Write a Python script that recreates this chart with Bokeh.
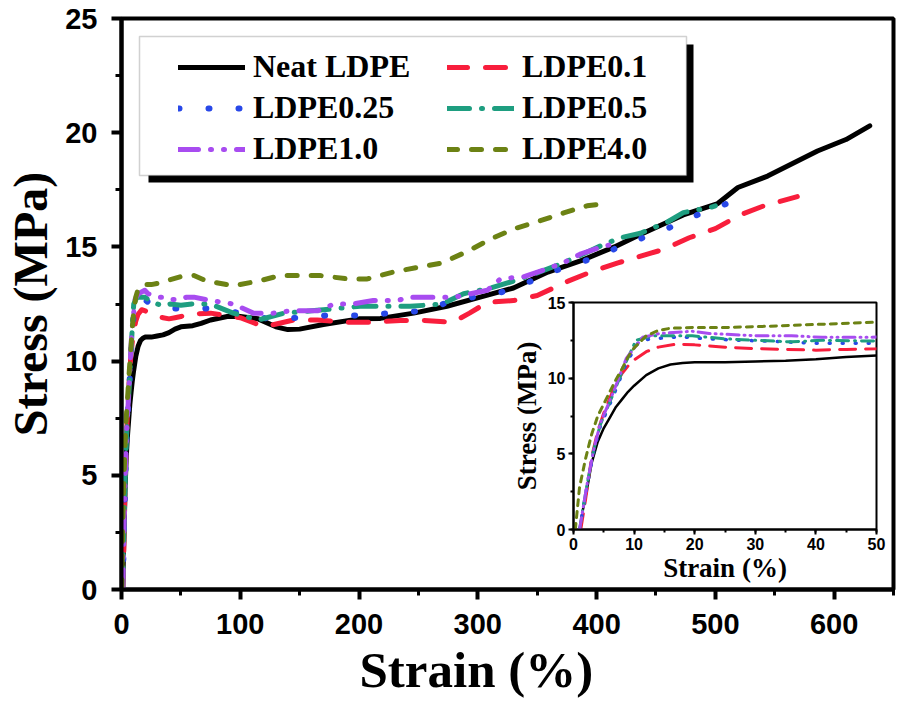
from bokeh.plotting import figure
from bokeh.models import (Range1d, SingleIntervalTicker, Legend, LegendItem, BoxAnnotation,
                          Title)
from bokeh.embed import file_html
from bokeh.resources import INLINE

# ---------------- data ----------------
series_names = ["Neat LDPE", "LDPE0.1", "LDPE0.25", "LDPE0.5", "LDPE1.0", "LDPE4.0"]

neat_x = [1.0, 1.5, 2.2, 3, 4, 5, 6, 7, 8, 9, 10, 12, 14, 16, 18, 20, 25, 30, 35, 40, 45, 50,
          60, 67, 75, 89, 100, 115, 130, 140, 150, 170, 200, 218, 246, 274, 302, 330, 359,
          387, 415, 435, 473, 502, 519, 544, 586, 610, 630]
neat_y = [0, 1.2, 2.6, 4.4, 5.8, 6.7, 7.4, 8.1, 8.6, 9.1, 9.5, 10.2, 10.65, 10.9, 11.0, 11.05,
          11.05, 11.1, 11.15, 11.25, 11.4, 11.5, 11.55, 11.65, 11.8, 11.95, 11.95, 11.85, 11.5,
          11.38, 11.4, 11.6, 11.85, 11.87, 12.1, 12.4, 12.8, 13.2, 13.9, 14.4, 15.0, 15.5, 16.4,
          16.9, 17.6, 18.1, 19.2, 19.7, 20.3]

ldpe01_x = [1.2, 2, 3, 4, 5, 6, 7, 8, 9, 10, 12, 14, 17, 20, 25, 30, 35, 40, 45, 50, 55, 75,
            100, 110, 120, 145, 165, 190, 210, 235, 255, 279, 293, 308, 330, 350, 376, 395, 418,
            457, 478, 500, 521, 541, 569]
ldpe01_y = [0, 2.0, 4.8, 6.5, 7.7, 8.7, 9.6, 10.3, 10.8, 11.2, 11.75, 12.05, 12.25, 12.2, 12.05,
            11.95, 11.9, 11.85, 11.9, 11.95, 12.05, 12.1, 11.9, 11.7, 11.5, 11.8, 11.8, 11.7,
            11.7, 11.78, 11.78, 11.7, 12.1, 12.57, 12.65, 12.87, 13.5, 13.9, 14.3, 14.9, 15.4,
            15.8, 16.4, 16.8, 17.2]

ldpe025_x = [1.0, 2.2, 3.3, 4.4, 6.5, 8.7, 10.9, 13, 16, 19, 22, 28, 35, 40, 47, 75, 100, 128,
             148, 173, 199, 227, 254, 279, 319, 345, 372, 397, 419, 439, 464, 489, 510, 530]
ldpe025_y = [0, 2.8, 5.1, 6.8, 8.75, 11.0, 12.5, 12.6, 12.7, 12.7, 12.6, 12.5, 12.4, 12.3, 12.3,
             12.3, 12.1, 11.8, 11.9, 12.0, 12.0, 12.1, 12.2, 12.65, 13.0, 13.5, 14.1, 14.5, 15.0,
             15.4, 15.9, 16.5, 16.9, 17.3]

ldpe05_x = [1.0, 2.2, 3.3, 4.4, 6.5, 8.7, 10.3, 13, 19.6, 25, 30, 36, 41, 50, 60, 75, 94, 115,
            137, 160, 201, 227, 243, 270, 288, 311, 330, 347, 367, 385, 404, 420, 437, 460, 473,
            482, 494, 500]
ldpe05_y = [0, 2.9, 5.2, 6.9, 8.9, 11.1, 12.5, 12.8, 12.8, 12.6, 12.5, 12.4, 12.5, 12.45, 12.5,
            12.5, 12.1, 11.8, 12.1, 12.2, 12.4, 12.4, 12.4, 12.5, 12.95, 13.2, 13.5, 13.8, 14.2,
            14.6, 15.06, 15.4, 15.6, 16.1, 16.5, 16.6, 16.7, 16.8]

ldpe10_x = [1.0, 2.2, 3.3, 4.4, 6.5, 8.7, 11.4, 14.2, 19.6, 22.4, 30.5, 36, 41, 49, 55, 61, 75,
            94, 111, 128, 142, 165, 179, 195, 212, 232, 243, 266, 280, 308, 319, 339, 356, 372,
            387, 404, 420]
ldpe10_y = [0, 2.9, 5.2, 7.0, 9.0, 11.3, 12.7, 12.95, 13.1, 12.95, 12.8, 12.8, 12.7, 12.7, 12.8,
            12.8, 12.65, 12.5, 12.1, 12.1, 12.2, 12.2, 12.5, 12.5, 12.65, 12.65, 12.8, 12.8, 12.8,
            13.1, 13.6, 13.7, 14.0, 14.3, 14.7, 15.0, 15.2]

ldpe40_x = [0.3, 1, 2, 3, 4, 5, 6, 7, 8, 9, 10, 12, 14, 16, 20, 25, 30, 40, 50, 61, 72, 78, 94,
            115, 134, 153, 167, 190, 207, 229, 249, 270, 291, 313, 331, 350, 373, 392, 400]
ldpe40_y = [0, 2.8, 4.7, 6.3, 7.5, 8.3, 9.1, 9.9, 10.6, 11.4, 12.0, 12.8, 13.15, 13.3, 13.35,
            13.35, 13.4, 13.55, 13.7, 13.75, 13.5, 13.45, 13.3, 13.5, 13.75, 13.75, 13.75, 13.6,
            13.6, 13.9, 14.1, 14.3, 14.8, 15.4, 15.8, 16.1, 16.5, 16.8, 16.85]

all_x = [neat_x, ldpe01_x, ldpe025_x, ldpe05_x, ldpe10_x, ldpe40_x]
all_y = [neat_y, ldpe01_y, ldpe025_y, ldpe05_y, ldpe10_y, ldpe40_y]

# ---------------- styles ----------------
colors = ["#000000", "#F81E3C", "#2848E8", "#1E9E80", "#A84CF0", "#6C8214"]
main_dash = ["solid", "20 18", "1 29", "22 12 1 12", "20 12 1 12 1 12", "10 14"]
main_width = [5, 5, 6, 5, 5, 5]
inset_dash = ["solid", "16 10", "1 12", "12 6 1 6", "12 5 1 5 1 5", "6 6"]
inset_width = [2.5, 3, 3.5, 3, 3, 3]

SANS = "Liberation Sans"
SERIF = "Liberation Serif"

FW, FH = 772, 571
BL, BR, BT, BB = 121, 4, 18, 116

p = figure(width=BL + FW + BR, height=BT + FH + BB,
           x_range=Range1d(0, 650), y_range=Range1d(0, 25),
           output_backend="svg", toolbar_location=None,
           min_border_left=BL, min_border_right=BR, min_border_top=BT, min_border_bottom=BB)
p.xgrid.visible = False
p.ygrid.visible = False
p.outline_line_color = "black"
p.outline_line_width = 4
p.background_fill_color = "white"
p.border_fill_color = "white"

p.xaxis.ticker = SingleIntervalTicker(interval=100, num_minor_ticks=2)
p.yaxis.ticker = SingleIntervalTicker(interval=5, num_minor_ticks=2)
for ax in (p.xaxis[0], p.yaxis[0]):
    ax.axis_line_width = 4
    ax.major_tick_line_width = 4
    ax.minor_tick_line_width = 3
    ax.major_tick_out = 10
    ax.major_tick_in = 0
    ax.minor_tick_out = 6
    ax.minor_tick_in = 0
    ax.major_label_text_font = SANS
    ax.major_label_text_font_style = "bold"
    ax.major_label_text_font_size = "29px"
    ax.major_label_text_color = "black"
    ax.axis_label_text_font = SERIF
    ax.axis_label_text_font_style = "bold"
    ax.axis_label_text_color = "black"
p.yaxis.axis_label = "Stress (MPa)"
p.yaxis.axis_label_text_font_size = "48px"
p.xaxis.major_label_standoff = 14
p.yaxis.major_label_standoff = 14
p.yaxis.axis_label_standoff = 5

# x-axis title placed below the axis, a little left of the frame centre as in the original
x_title = Title(text="Strain (%)", align="left", offset=238, standoff=6,
                text_font=SERIF, text_font_style="bold", text_font_size="51px",
                text_color="black")
p.add_layout(x_title, "below")

items = []
for name, xs, ys, c, d, w in zip(series_names, all_x, all_y, colors, main_dash, main_width):
    r = p.line(xs, ys, line_color=c, line_width=w, line_dash=d, line_cap="round",
               line_join="round")
    items.append(LegendItem(label=name, renderers=[r]))

# legend frame with drop shadow (pixel offsets converted to data units)
sx = 650 / FW
sy = 25 / FH
shadow = BoxAnnotation(left=27 * sx, right=572 * sx, top=25 - 26 * sy, bottom=25 - 164 * sy,
                       fill_color="black", fill_alpha=1, line_alpha=0)
box = BoxAnnotation(left=18 * sx, right=565 * sx, top=25 - 18 * sy, bottom=25 - 157 * sy,
                    fill_color="white", fill_alpha=1, line_color="#666666", line_width=1.5)
p.add_layout(shadow)
p.add_layout(box)

legend = Legend(items=items, location=(57, FH - 149), orientation="horizontal", ncols=2,
                padding=0, spacing=4, margin=0, label_standoff=8, glyph_width=67,
                glyph_height=20, label_width=190,
                label_text_font=SERIF, label_text_font_style="bold",
                label_text_font_size="32px", label_text_color="black",
                background_fill_alpha=0, border_line_alpha=0)
p.add_layout(legend)

# ---------------- inset ----------------
IFW, IFH = 306, 228
IL, IR, IT, IB = 62, 12, 10, 55
q = figure(width=IL + IFW + IR, height=IT + IFH + IB,
           x_range=Range1d(0, 50), y_range=Range1d(0, 15),
           output_backend="svg", toolbar_location=None,
           min_border_left=IL, min_border_right=IR, min_border_top=IT, min_border_bottom=IB)
q.styles = {"position": "absolute", "left": f"{570 - IL}px", "top": f"{302 - IT}px"}
q.xgrid.visible = False
q.ygrid.visible = False
q.outline_line_color = "black"
q.outline_line_width = 2
q.background_fill_alpha = 0
q.border_fill_alpha = 0
q.xaxis.ticker = SingleIntervalTicker(interval=10, num_minor_ticks=2)
q.yaxis.ticker = SingleIntervalTicker(interval=5, num_minor_ticks=2)
for ax in (q.xaxis[0], q.yaxis[0]):
    ax.axis_line_width = 2
    ax.major_tick_line_width = 2
    ax.minor_tick_line_width = 2
    ax.major_tick_out = 5
    ax.major_tick_in = 0
    ax.minor_tick_out = 3
    ax.minor_tick_in = 0
    ax.major_label_text_font = SANS
    ax.major_label_text_font_style = "bold"
    ax.major_label_text_font_size = "16px"
    ax.major_label_text_color = "black"
    ax.major_label_standoff = 3
    ax.axis_label_text_font = SERIF
    ax.axis_label_text_font_style = "bold"
    ax.axis_label_text_font_size = "27px"
    ax.axis_label_text_color = "black"
q.xaxis.axis_label_standoff = 0
q.yaxis.axis_label_standoff = 3
q.xaxis.axis_label = "Strain (%)"
q.yaxis.axis_label = "Stress (MPa)"

for xs, ys, c, d, w in zip(all_x, all_y, colors, inset_dash, inset_width):
    q.line(xs, ys, line_color=c, line_width=w, line_dash=d, line_cap="round", line_join="round")

open("out.html", "w").write(file_html([p, q], INLINE))
